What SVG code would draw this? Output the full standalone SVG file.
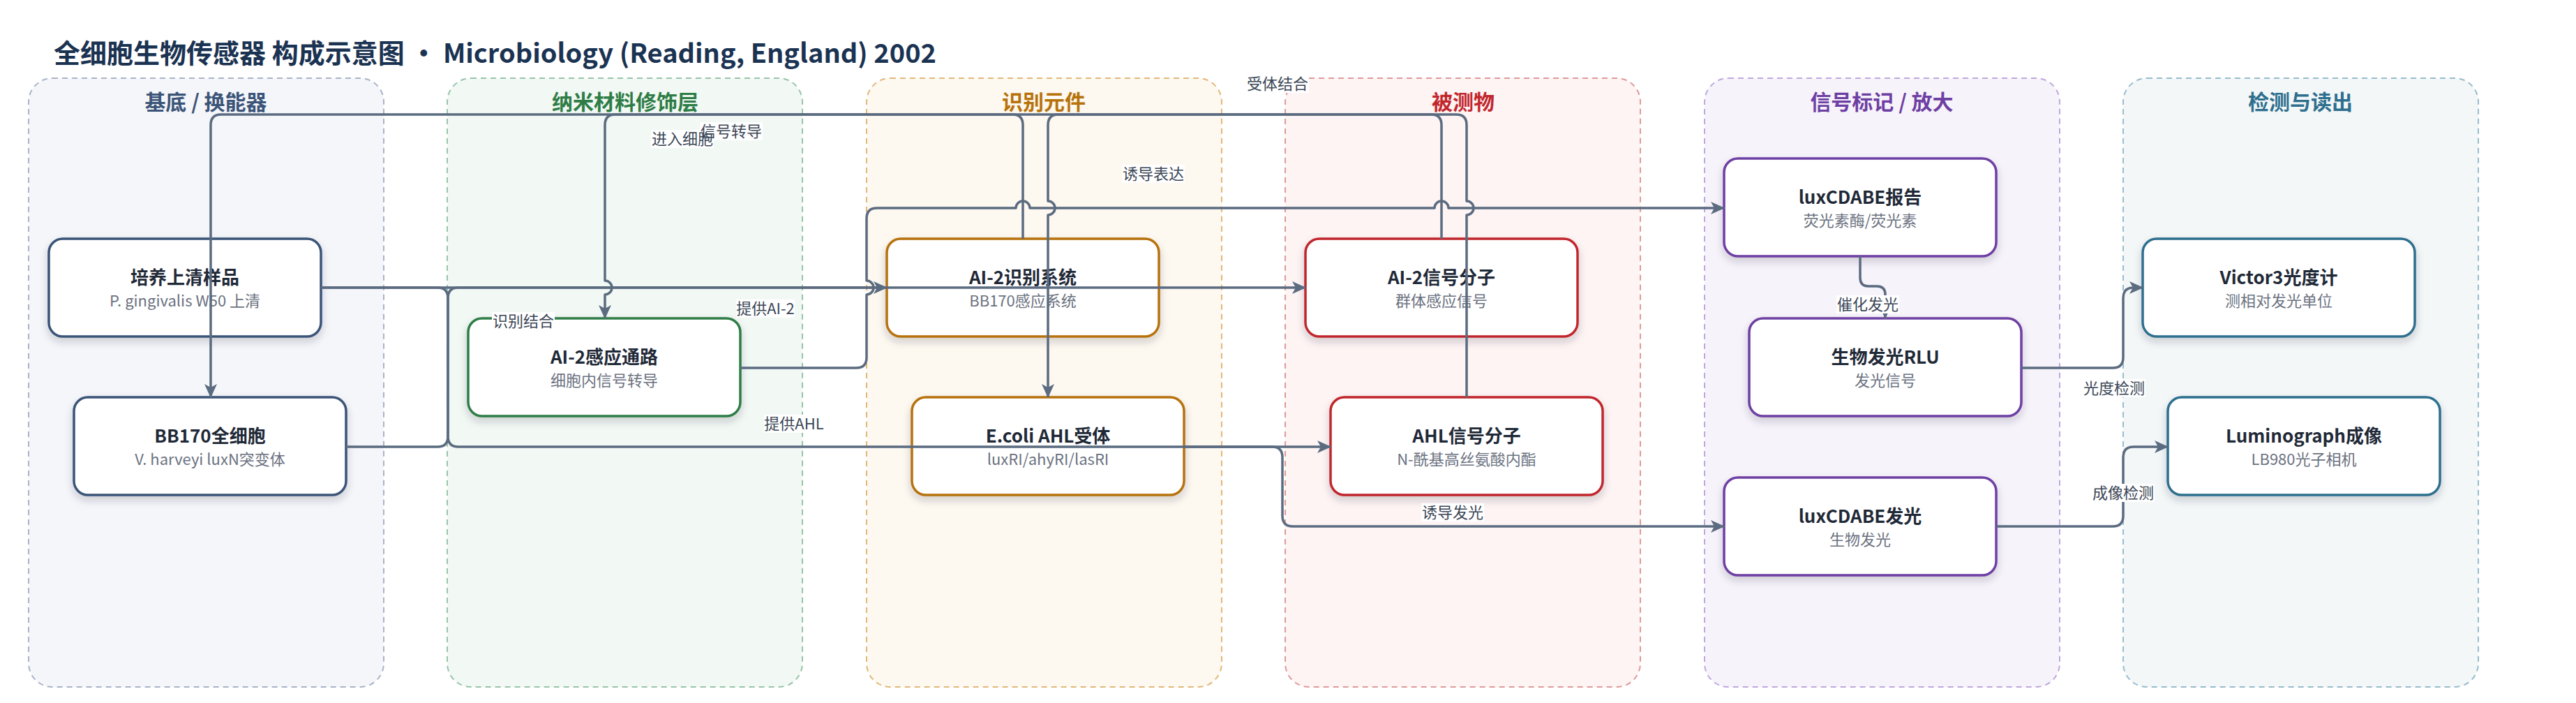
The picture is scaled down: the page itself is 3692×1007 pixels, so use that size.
<svg xmlns="http://www.w3.org/2000/svg" width="3692" height="1007" viewBox="0 0 3692 1007">
<defs>
<style>
text{font-family:"Noto Sans CJK SC","Noto Sans",sans-serif}
.lane{stroke-width:2;stroke-dasharray:8 6}
.lt{font-size:30px;font-weight:700;text-anchor:middle}
.box{fill:#fff;stroke-width:3.5;filter:url(#sh)}
.nt{font-size:26px;font-weight:700;fill:#1f2937;text-anchor:middle}
.ns{font-size:22px;fill:#6b7280;text-anchor:middle}
.e{fill:none;stroke:#5b6b80;stroke-width:3.5;stroke-linejoin:round}
.ea{marker-end:url(#ar)}
.lb{fill:#fff}
.lx{font-size:22px;fill:#3b4656;text-anchor:middle}
</style>
<filter id="sh" x="-10%" y="-10%" width="120%" height="140%">
<feDropShadow dx="0" dy="6" stdDeviation="6" flood-color="#1f2937" flood-opacity="0.2"/>
</filter>
<marker id="ar" viewBox="0 0 20 20" markerWidth="20" markerHeight="20" refX="19" refY="10" orient="auto" markerUnits="userSpaceOnUse">
<path d="M0,1 L20,10 L0,19 L5,10 z" fill="#5b6b80"/>
</marker>
</defs>
<rect width="3692" height="1007" fill="#fff"/>
<text x="77" y="90" style="font-size:38px;font-weight:700;fill:#1b3352">全细胞生物传感器 构成示意图 · Microbiology (Reading, England) 2002</text>

<g id="lanes">
<g id="lane-substrate"><rect class="lane" x="41" y="112" width="509" height="872" rx="34" fill="#f5f6fa" stroke="#a8b4c8"/><text class="lt" x="295" y="157" fill="#3b5478">基底 / 换能器</text></g>
<g id="lane-nano"><rect class="lane" x="641" y="112" width="509" height="872" rx="34" fill="#f2f8f4" stroke="#98c4a8"/><text class="lt" x="896" y="157" fill="#2e7d46">纳米材料修饰层</text></g>
<g id="lane-recog"><rect class="lane" x="1242" y="112" width="509" height="872" rx="34" fill="#fdf8f0" stroke="#e2b878"/><text class="lt" x="1496" y="157" fill="#b7720b">识别元件</text></g>
<g id="lane-analyte"><rect class="lane" x="1842" y="112" width="509" height="872" rx="34" fill="#fdf4f3" stroke="#e09a9a"/><text class="lt" x="2097" y="157" fill="#c1272d">被测物</text></g>
<g id="lane-signal"><rect class="lane" x="2443" y="112" width="509" height="872" rx="34" fill="#f7f3fb" stroke="#c0a8dc"/><text class="lt" x="2697" y="157" fill="#6e3fa3">信号标记 / 放大</text></g>
<g id="lane-detect"><rect class="lane" x="3043" y="112" width="509" height="872" rx="34" fill="#f3f7f8" stroke="#98bccb"/><text class="lt" x="3297" y="157" fill="#2e6f8e">检测与读出</text></g>
</g>

<g id="nodes">
<g id="n-sample"><rect class="box" x="70" y="342" width="390" height="140" rx="20" stroke="#3b5478"/><text class="nt" x="265" y="407">培养上清样品</text><text class="ns" x="265" y="439">P. gingivalis W50 上清</text></g>
<g id="n-bb170"><rect class="box" x="106" y="569" width="390" height="140" rx="20" stroke="#3b5478"/><text class="nt" x="301" y="634">BB170全细胞</text><text class="ns" x="301" y="666">V. harveyi luxN突变体</text></g>
<g id="n-ai2path"><rect class="box" x="671" y="456" width="390" height="140" rx="20" stroke="#2e7d46"/><text class="nt" x="866" y="521">AI-2感应通路</text><text class="ns" x="866" y="553">细胞内信号转导</text></g>
<g id="n-ai2rec"><rect class="box" x="1271" y="342" width="390" height="140" rx="20" stroke="#b7720b"/><text class="nt" x="1466" y="407">AI-2识别系统</text><text class="ns" x="1466" y="439">BB170感应系统</text></g>
<g id="n-ahlrec"><rect class="box" x="1307" y="569" width="390" height="140" rx="20" stroke="#b7720b"/><text class="nt" x="1502" y="634">E.coli AHL受体</text><text class="ns" x="1502" y="666">luxRI/ahyRI/lasRI</text></g>
<g id="n-ai2sig"><rect class="box" x="1871" y="342" width="390" height="140" rx="20" stroke="#c1272d"/><text class="nt" x="2066" y="407">AI-2信号分子</text><text class="ns" x="2066" y="439">群体感应信号</text></g>
<g id="n-ahlsig"><rect class="box" x="1907" y="569" width="390" height="140" rx="20" stroke="#c1272d"/><text class="nt" x="2102" y="634">AHL信号分子</text><text class="ns" x="2102" y="666">N-酰基高丝氨酸内酯</text></g>
<g id="n-luxrep"><rect class="box" x="2471" y="227" width="390" height="140" rx="20" stroke="#6e3fa3"/><text class="nt" x="2666" y="292">luxCDABE报告</text><text class="ns" x="2666" y="324">荧光素酶/荧光素</text></g>
<g id="n-rlu"><rect class="box" x="2507" y="456" width="390" height="140" rx="20" stroke="#6e3fa3"/><text class="nt" x="2702" y="521">生物发光RLU</text><text class="ns" x="2702" y="553">发光信号</text></g>
<g id="n-luxlum"><rect class="box" x="2471" y="684" width="390" height="140" rx="20" stroke="#6e3fa3"/><text class="nt" x="2666" y="749">luxCDABE发光</text><text class="ns" x="2666" y="781">生物发光</text></g>
<g id="n-victor"><rect class="box" x="3071" y="342" width="390" height="140" rx="20" stroke="#2e6f8e"/><text class="nt" x="3266" y="407">Victor3光度计</text><text class="ns" x="3266" y="439">测相对发光单位</text></g>
<g id="n-lumino"><rect class="box" x="3107" y="569" width="390" height="140" rx="20" stroke="#2e6f8e"/><text class="nt" x="3302" y="634">Luminograph成像</text><text class="ns" x="3302" y="666">LB980光子相机</text></g>
</g>

<g id="connectors">
<path class="e ea" d="M2066,342 V179 Q2066,164 2051,164 H317 Q302,164 302,179 V569"/>
<path class="e ea" d="M1466,342 V179 Q1466,164 1451,164 H882 Q867,164 867,179 V402 A10,10 0 0 1 867,422 V456"/>
<path class="e ea" d="M2102,569 V308 A10,10 0 0 0 2102,288 V179 Q2102,164 2087,164 H1517 Q1502,164 1502,179 V288 A10,10 0 0 1 1502,308 V569"/>
<path class="e ea" d="M460,412 H1871"/>
<path class="e ea" d="M496,640 H627 Q642,640 642,625 V427 Q642,412 657,412 H1271"/>
<path class="e ea" d="M460,412 H627 Q642,412 642,427 V625 Q642,640 657,640 H1907"/>
<path class="e ea" d="M1061,527 H1227 Q1242,527 1242,512 V422 A10,10 0 0 0 1242,402 V313 Q1242,298 1257,298 H1456 A10,10 0 0 1 1476,298 H2056 A10,10 0 0 1 2076,298 H2471"/>
<path class="e ea" d="M1697,640 H1823 Q1838,640 1838,655 V739 Q1838,754 1853,754 H2471"/>
<path class="e ea" d="M2666,367 V398 Q2666,410 2678,410 H2690 Q2702,410 2702,422 V456"/>
<path class="e ea" d="M2897,527 H3028 Q3043,527 3043,512 V427 Q3043,412 3058,412 H3071"/>
<path class="e ea" d="M2861,754 H3028 Q3043,754 3043,739 V655 Q3043,640 3058,640 H3107"/>
</g>

<g id="edge-labels">
<rect class="lb" x="933" y="186" width="90" height="26"/>
<rect class="lb" x="1003" y="175" width="90" height="26"/>
<rect class="lb" x="1786" y="107" width="90" height="26"/>
<rect class="lb" x="705" y="447" width="90" height="26"/>
<rect class="lb" x="1055" y="429" width="84" height="26"/>
<rect class="lb" x="1095" y="594" width="86" height="26"/>
<rect class="lb" x="1608" y="236" width="90" height="26"/>
<rect class="lb" x="2037" y="721" width="90" height="26"/>
<rect class="lb" x="2632" y="423" width="90" height="26"/>
<rect class="lb" x="2985" y="543" width="90" height="26"/>
<rect class="lb" x="2998" y="693" width="90" height="26"/>
<text class="lx" x="978" y="207">进入细胞</text>
<text class="lx" x="1048" y="196">信号转导</text>
<text class="lx" x="1831" y="128">受体结合</text>
<text class="lx" x="750" y="468">识别结合</text>
<text class="lx" x="1097" y="450">提供AI-2</text>
<text class="lx" x="1138" y="615">提供AHL</text>
<text class="lx" x="1653" y="257">诱导表达</text>
<text class="lx" x="2082" y="742">诱导发光</text>
<text class="lx" x="2677" y="444">催化发光</text>
<text class="lx" x="3030" y="564">光度检测</text>
<text class="lx" x="3043" y="714">成像检测</text>
</g>
</svg>
